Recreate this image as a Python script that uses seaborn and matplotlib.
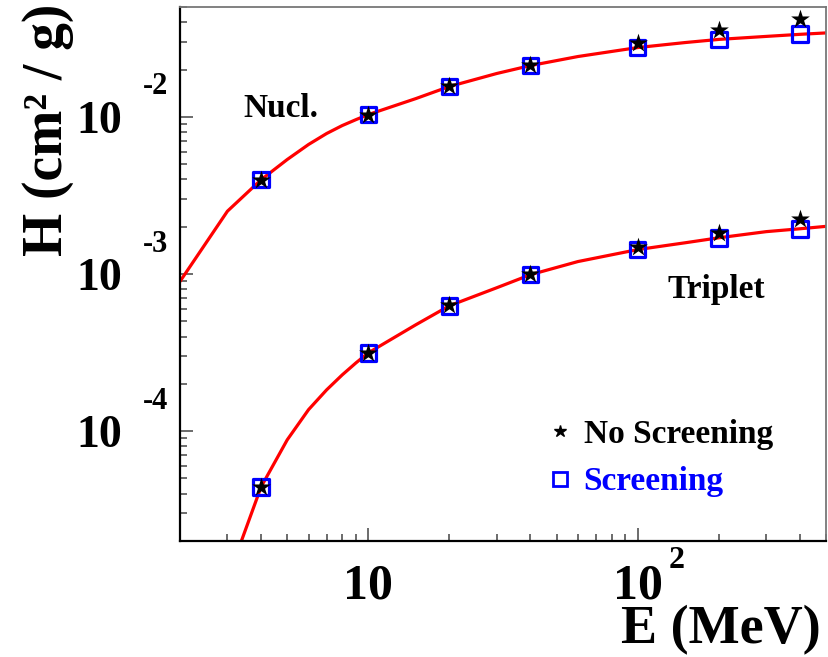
import numpy as np
import pandas as pd
import seaborn as sns
import matplotlib
matplotlib.use("Agg")
import matplotlib.pyplot as plt
from matplotlib.lines import Line2D
from matplotlib.ticker import NullFormatter, FixedLocator, LogLocator
from matplotlib.transforms import offset_copy

# measured points
energy_pts = [4, 10, 20, 40, 100, 200, 400]
nucl_screen = [3.98e-3, 1.034e-2, 1.56e-2, 2.12e-2, 2.76e-2, 3.11e-2, 3.37e-2]
nucl_noscreen = [3.98e-3, 1.034e-2, 1.57e-2, 2.15e-2, 2.93e-2, 3.55e-2, 4.17e-2]
trip_screen = [4.42e-5, 3.15e-4, 6.28e-4, 9.9e-4, 1.43e-3, 1.70e-3, 1.94e-3]
trip_noscreen = [4.42e-5, 3.15e-4, 6.35e-4, 1.0e-3, 1.49e-3, 1.83e-3, 2.25e-3]

# red curves
nucl_curve_e = [2, 3, 4, 5, 6, 7, 8, 9, 10, 15, 20, 30, 40, 60, 100, 150, 200, 300, 400, 500]
nucl_curve = [8.97e-4, 2.51e-3, 3.98e-3, 5.35e-3, 6.67e-3, 7.83e-3, 8.8e-3, 9.6e-3, 1.034e-2,
              1.306e-2, 1.56e-2, 1.888e-2, 2.12e-2, 2.42e-2, 2.76e-2, 2.97e-2, 3.11e-2,
              3.25e-2, 3.35e-2, 3.42e-2]
trip_curve_e = [3, 4, 5, 6, 7, 8, 9, 10, 15, 20, 30, 40, 60, 100, 150, 200, 300, 400, 500]
trip_curve = [1.14e-5, 4.42e-5, 8.8e-5, 1.37e-4, 1.83e-4, 2.28e-4, 2.72e-4, 3.15e-4, 4.75e-4,
              6.28e-4, 8.18e-4, 9.9e-4, 1.20e-3, 1.43e-3, 1.58e-3, 1.70e-3, 1.86e-3,
              1.94e-3, 2.01e-3]

sns.set_theme(style="white")
plt.rcParams['font.family'] = ['Liberation Serif', 'DejaVu Serif']
plt.rcParams['font.weight'] = 'bold'
plt.rcParams['text.color'] = 'black'
plt.rcParams['xtick.color'] = 'black'
plt.rcParams['ytick.color'] = 'black'

W, H = 829, 657
fig = plt.figure(figsize=(W / 100, H / 100), dpi=100)
ax = fig.add_axes([180 / W, 1 - 541 / H, 646 / W, 534 / H])

red = '#ff0000'
blue = '#0000ff'

sns.lineplot(x=nucl_curve_e, y=nucl_curve, ax=ax, color=red, lw=2.3, sort=True, estimator=None)
sns.lineplot(x=trip_curve_e, y=trip_curve, ax=ax, color=red, lw=2.3, sort=True, estimator=None)

for yvals in (nucl_screen, trip_screen):
    sns.scatterplot(x=energy_pts, y=yvals, ax=ax, marker='s', s=125, facecolor='none',
                    edgecolor=blue, linewidth=2.3, zorder=3)
for yvals in (nucl_noscreen, trip_noscreen):
    sns.scatterplot(x=energy_pts, y=yvals, ax=ax, marker='*', s=200, color='black',
                    edgecolor='black', linewidth=0, zorder=4)

ax.set_xscale('log')
ax.set_yscale('log')
ax.set_xlim(2, 500)
ax.set_ylim(2e-5, 5e-2)

ax.xaxis.set_major_locator(FixedLocator([10, 100]))
ax.set_xticklabels(['10', '10'])
ax.xaxis.set_minor_locator(LogLocator(base=10, subs=np.arange(2, 10)))
ax.xaxis.set_minor_formatter(NullFormatter())
ax.yaxis.set_major_locator(FixedLocator([1e-4, 1e-3, 1e-2]))
ax.set_yticklabels(['10', '10', '10'])
ax.yaxis.set_minor_locator(LogLocator(base=10, subs=np.arange(2, 10)))
ax.yaxis.set_minor_formatter(NullFormatter())

ax.tick_params(which='both', direction='in', color='#444444', width=1.1,
               left=True, bottom=True, top=False, right=False, labelcolor='black')
ax.tick_params(which='major', length=9.5)
ax.tick_params(which='minor', length=4.8)
ax.tick_params(axis='y', which='major', labelsize=33, pad=42)
ax.tick_params(axis='x', which='major', labelsize=36, pad=16)
for lab in ax.get_xticklabels() + ax.get_yticklabels():
    lab.set_fontweight('bold')

for side in ('left', 'bottom'):
    ax.spines[side].set_color('black')
    ax.spines[side].set_linewidth(1.6)
for side in ('top', 'right'):
    ax.spines[side].set_color('#777777')
    ax.spines[side].set_linewidth(1.3)

# ROOT style exponents
ytr = offset_copy(ax.get_yaxis_transform(), fig=fig, x=-12, y=30, units='dots')
for val, txt in [(1e-2, '-2'), (1e-3, '-3'), (1e-4, '-4')]:
    ax.text(0, val, txt, transform=ytr, ha='right', va='center', fontsize=22,
            fontweight='bold', clip_on=False)
xtr = offset_copy(ax.get_xaxis_transform(), fig=fig, x=39, y=-19, units='dots')
ax.text(100, 0, '2', transform=xtr, ha='center', va='center', fontsize=23,
        fontweight='bold', clip_on=False)

fig.text(22 / W, 1 - 4 / H, 'H (cm² / g)', rotation=90, ha='left', va='top',
         fontsize=40, fontweight='bold')
fig.text(821 / W, 2 / H, 'E (MeV)', ha='right', va='bottom', fontsize=39, fontweight='bold')

fig.text(243 / W, 1 - 117 / H, 'Nucl.', ha='left', va='baseline', fontsize=24, fontweight='bold')
fig.text(668 / W, 1 - 298 / H, 'Triplet', ha='left', va='baseline', fontsize=24, fontweight='bold')

handles = [Line2D([], [], ls='none', marker='*', ms=9, color='black'),
           Line2D([], [], ls='none', marker='s', ms=10, mfc='none', mec=blue, mew=2)]
leg = ax.legend(handles, ['No Screening', 'Screening'], loc='center left',
                bbox_to_anchor=(547 / W, 1 - 458 / H), bbox_transform=fig.transFigure,
                frameon=False, handlelength=0.8, handletextpad=0.3, labelspacing=0.5,
                prop={'size': 24, 'weight': 'bold'}, borderaxespad=0, borderpad=0)
leg.get_texts()[0].set_color('black')
leg.get_texts()[1].set_color(blue)

fig.savefig('out.png', dpi=100)
